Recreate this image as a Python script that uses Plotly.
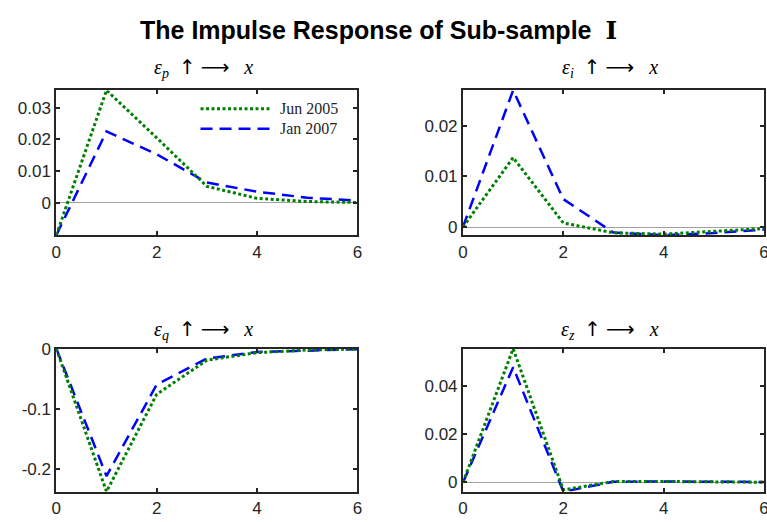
import plotly.graph_objects as go

# Horizons (quarters after the shock)
horizon = [0, 1, 2, 3, 4, 5, 6]

# Responses of x to each shock, two estimation dates
jun2005_p = [-0.0102, 0.0355, 0.0205, 0.0052, 0.0014, 0.0004, 0.0001]
jan2007_p = [-0.0102, 0.0225, 0.0153, 0.0064, 0.0035, 0.0016, 0.0007]

jun2005_i = [0.0, 0.0137, 0.0008, -0.00115, -0.0014, -0.0009, -0.0003]
jan2007_i = [0.0, 0.0270, 0.0055, -0.0011, -0.0016, -0.0012, -0.0005]

jun2005_q = [0.0, -0.2368, -0.0756, -0.0190, -0.0066, -0.0022, -0.0006]
jan2007_q = [0.0, -0.2110, -0.0595, -0.0163, -0.0055, -0.0028, -0.0010]

jun2005_z = [0.0, 0.0556, -0.0031, 0.0004, 0.0004, 0.0003, 0.0001]
jan2007_z = [0.0, 0.0479, -0.0038, 0.0003, 0.0004, 0.0003, 0.0002]

series_names = ["Jun 2005", "Jan 2007"]
shock_subscripts = ["p", "i", "q", "z"]
ytick_vals = [
    [0, 0.01, 0.02, 0.03],
    [0, 0.01, 0.02],
    [-0.2, -0.1, 0],
    [0, 0.02, 0.04],
]
ytick_text = [
    ["0", "0.01", "0.02", "0.03"],
    ["0", "0.01", "0.02"],
    ["-0.2", "-0.1", "0"],
    ["0", "0.02", "0.04"],
]
xtick_vals = [0, 2, 4, 6]
xtick_text = ["0", "2", "4", "6"]
main_title = "The Impulse Response of Sub-sample"
main_title_numeral = "Ⅰ"

panels = [
    (jun2005_p, jan2007_p),
    (jun2005_i, jan2007_i),
    (jun2005_q, jan2007_q),
    (jun2005_z, jan2007_z),
]

W, H = 770, 522
AXIS_COLOR = "#262626"
GREEN = "#008000"
BLUE = "#0000ff"
GREEN_DASH = "3px,2.5px"
BLUE_DASH = "12px,7px"
SERIF = "Liberation Serif, Times New Roman, serif"
ARROW_FONT = "DejaVu Sans"


def panel_title(sub):
    # epsilon_sub  (up arrow)  (right arrow)  x
    arrow = '<span style="font-family:%s">%s</span>'
    return ("<i>ε</i><sub><i>%s</i></sub>  " % sub
            + arrow % (ARROW_FONT, "↑") + " "
            + arrow % (ARROW_FONT, "⟶") + "   <i>x</i>")


# panel boxes in pixels: (left, right, top, bottom)
boxes = [
    (52, 357, 83, 231),
    (464, 769, 83, 231),
    (52, 357, 347, 493),
    (464, 769, 347, 493),
]

fig = go.Figure()
layout_axes = {}
annotations = []
shapes = []

for k, ((green, blue), box) in enumerate(zip(panels, boxes)):
    n = "" if k == 0 else str(k + 1)
    xa, ya = "x" + n, "y" + n
    fig.add_trace(go.Scatter(
        x=horizon, y=blue, xaxis=xa, yaxis=ya, mode="lines",
        line=dict(color=BLUE, width=2.5, dash=BLUE_DASH),
        name=series_names[1], showlegend=False))
    fig.add_trace(go.Scatter(
        x=horizon, y=green, xaxis=xa, yaxis=ya, mode="lines",
        line=dict(color=GREEN, width=3, dash=GREEN_DASH),
        name=series_names[0], showlegend=False))

    lo = min(min(green), min(blue))
    hi = max(max(green), max(blue))
    l, r, t, b = box
    common = dict(
        showline=True, linecolor=AXIS_COLOR, linewidth=2, mirror="ticks",
        ticks="inside", ticklen=4, tickwidth=1.5, tickcolor=AXIS_COLOR,
        showgrid=False,
        tickfont=dict(family="Arial, Liberation Sans", size=17, color=AXIS_COLOR),
    )
    layout_axes["xaxis" + n] = dict(
        common, domain=[l / W, r / W], range=[0, 6], anchor=ya,
        tickvals=xtick_vals, ticktext=xtick_text, zeroline=False)
    layout_axes["yaxis" + n] = dict(
        common, domain=[1 - b / H, 1 - t / H], range=[lo, hi], anchor=xa,
        tickvals=ytick_vals[k], ticktext=ytick_text[k],
        zeroline=True, zerolinecolor="#a0a0a0", zerolinewidth=1)

    annotations.append(dict(
        text=panel_title(shock_subscripts[k]),
        xref=xa + " domain", yref=ya + " domain",
        x=0.49, y=1, xanchor="center", yanchor="bottom",
        yshift=7 if k < 2 else 4,
        showarrow=False,
        font=dict(family=SERIF, size=20, color="#000000")))

# legend drawn inside the first panel
legend_rows = [(0.872, GREEN, GREEN_DASH, 3), (0.734, BLUE, BLUE_DASH, 2.5)]
for (yy, col, dash, w), label in zip(legend_rows, series_names):
    shapes.append(dict(
        type="line", xref="x domain", yref="y domain",
        x0=0.479, x1=0.715, y0=yy, y1=yy,
        line=dict(color=col, width=w, dash=dash)))
    annotations.append(dict(
        text=label, xref="x domain", yref="y domain", x=0.735, y=yy,
        xanchor="left", yanchor="middle", showarrow=False,
        font=dict(family=SERIF, size=16, color=AXIS_COLOR)))

annotations.append(dict(
    text="<b>" + main_title + ' &nbsp;<span style="font-family:DejaVu Serif">'
         + main_title_numeral + "</span></b>",
    xref="paper", yref="paper",
    x=378.5 / W, y=1 - 22 / H, xanchor="center", yanchor="middle",
    showarrow=False,
    font=dict(family="Arial, Liberation Sans", size=25, color="#000000")))

fig.update_layout(
    width=W, height=H,
    margin=dict(l=0, r=0, t=0, b=0),
    paper_bgcolor="white", plot_bgcolor="white",
    showlegend=False,
    annotations=annotations, shapes=shapes,
    **layout_axes,
)

fig.write_html(
    "out.html",
    config={"displayModeBar": False},
    post_script="document.documentElement.style.overflow='hidden';"
                "document.body.style.overflow='hidden';",
)
